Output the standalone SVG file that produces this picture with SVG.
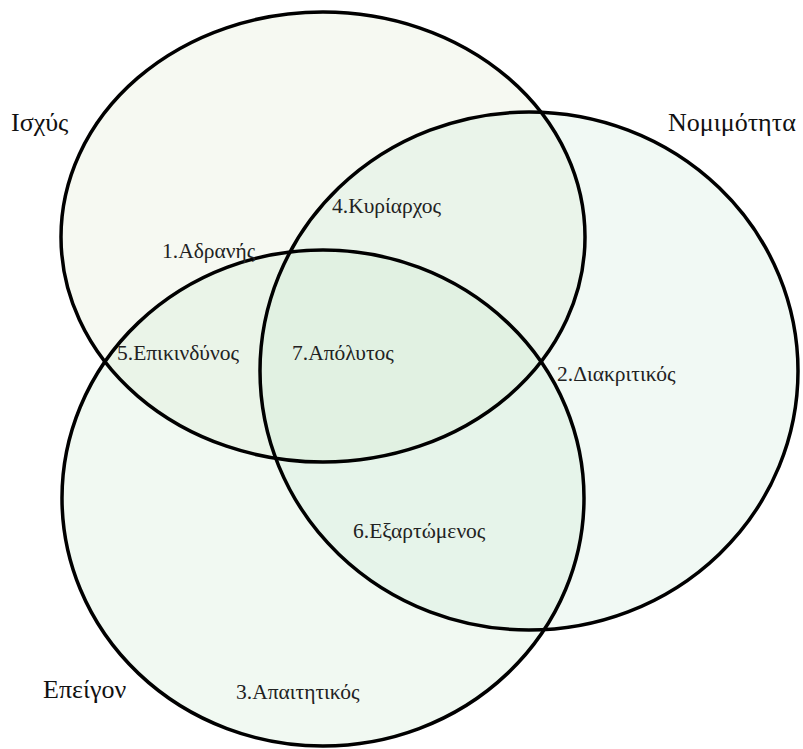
<svg xmlns="http://www.w3.org/2000/svg" width="803" height="749" viewBox="0 0 803 749">
  <style>
    .fill { stroke: none; }
    .outline { fill: none; stroke: #000; stroke-width: 3.5; }
  </style>
  <defs>
    <ellipse id="shape-power" cx="323" cy="237" rx="262" ry="225"/>
    <ellipse id="shape-legitimacy" cx="529" cy="371" rx="269" ry="259"/>
    <ellipse id="shape-urgency" cx="323" cy="498" rx="261" ry="248"/>
  </defs>
  <rect width="803" height="749" fill="#fff"/>
  <g id="sets">
    <g id="set-power">
      <use href="#shape-power" class="fill" fill="#dbe6cc" fill-opacity="0.25"/>
    </g>
    <g id="set-legitimacy">
      <use href="#shape-legitimacy" class="fill" fill="#c8e8d2" fill-opacity="0.25"/>
    </g>
    <g id="set-urgency">
      <use href="#shape-urgency" class="fill" fill="#c8e8cc" fill-opacity="0.25"/>
    </g>
    <g id="outlines">
      <use href="#shape-power" class="outline"/>
      <use href="#shape-legitimacy" class="outline"/>
      <use href="#shape-urgency" class="outline"/>
    </g>
  </g>
  <g id="set-titles" font-family="'Liberation Serif', 'Times New Roman', serif" font-size="26" fill="#111">
    <text x="11" y="131">Ισχύς</text>
    <text x="668" y="131">Νομιμότητα</text>
    <text x="43" y="698">Επείγον</text>
  </g>
  <g id="regions" font-family="'Liberation Serif', 'Times New Roman', serif" font-size="21.5" fill="#222">
    <text x="162" y="258">1.Αδρανής</text>
    <text x="332" y="213">4.Κυρίαρχος</text>
    <text x="117" y="360">5.Επικινδύνος</text>
    <text x="292" y="360">7.Απόλυτος</text>
    <text x="557" y="381">2.Διακριτικός</text>
    <text x="353" y="538">6.Εξαρτώμενος</text>
    <text x="236" y="699">3.Απαιτητικός</text>
  </g>
</svg>
